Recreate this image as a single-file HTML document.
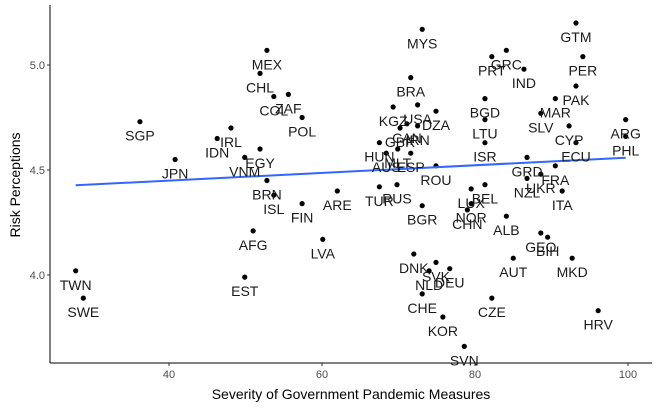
<!DOCTYPE html>
<html><head><meta charset="utf-8"><style>
body{margin:0;background:#fff;}
svg{display:block;font-family:"Liberation Sans",Arial,sans-serif;}
</style></head><body>
<svg id="chart" width="661" height="408" viewBox="0 0 661 408"></svg>
<script>
const countries=["MEX","CHL","COL","ZAF","SGP","POL","IRL","IDN","EGY","VNM","JPN","BRN","ISL","ARE","FIN","AFG","LVA","TWN","EST","SWE","MYS","GTM","PRT","GRC","IND","PER","BRA","PAK","BGD","MAR","KGZ","USA","DZA","SLV","LTU","CYP","ARG","PHL","GBR","CAN","IRN","HUN","MLT","AUS","ESP","ROU","ISR","ECU","GRD","FRA","UKR","NZL","ITA","TUR","RUS","BGR","LUX","BEL","NOR","CHN","ALB","GEO","BIH","DNK","SVK","NLD","DEU","CHE","AUT","MKD","CZE","KOR","SVN","HRV"];
const severity=[52.8,51.9,53.7,55.6,36.2,57.4,48.1,46.3,51.9,49.9,40.8,52.8,53.7,62.0,57.4,51.0,60.1,27.8,49.9,28.8,73.1,93.2,82.2,84.1,86.4,94.1,71.6,93.2,81.3,90.5,69.3,72.5,74.9,88.6,81.3,92.3,99.7,99.7,70.2,71.1,72.5,67.5,69.9,68.4,71.6,74.9,81.3,93.2,86.8,90.5,88.6,86.8,91.4,67.5,69.8,73.1,79.5,81.3,79.5,79.0,84.1,88.6,89.5,72.0,74.9,74.0,76.7,73.1,85.0,92.7,82.2,75.8,78.6,96.1];
const risk=[5.07,4.96,4.85,4.86,4.73,4.75,4.70,4.65,4.60,4.56,4.55,4.45,4.38,4.40,4.34,4.21,4.17,4.02,3.99,3.89,5.17,5.20,5.04,5.07,4.98,5.04,4.94,4.90,4.84,4.84,4.80,4.81,4.78,4.77,4.74,4.71,4.74,4.66,4.70,4.72,4.71,4.63,4.60,4.58,4.58,4.52,4.63,4.63,4.56,4.52,4.48,4.46,4.40,4.42,4.43,4.33,4.41,4.43,4.34,4.31,4.28,4.20,4.18,4.10,4.06,4.02,4.03,3.91,4.08,4.08,3.89,3.80,3.66,3.83];
const xTicks=[40,60,80,100];
const yTicks=[4.0,4.5,5.0];
const NS="http://www.w3.org/2000/svg";
const svg=document.getElementById('chart');
const L=50,R=652,T=5,B=363;
function sx(v){return 169+(v-40)*7.65;}
function sy(v){return 65+(5-v)*210;}
function mk(tag,attrs,txt){const e=document.createElementNS(NS,tag);for(const k in attrs)e.setAttribute(k,attrs[k]);if(txt!==undefined)e.textContent=txt;svg.appendChild(e);return e;}
// axes
let e=mk('line',{x1:L,y1:T,x2:L,y2:B,stroke:'#000','stroke-width':1});


e=mk('line',{x1:L,y1:B,x2:R,y2:B,stroke:'#000','stroke-width':1});


xTicks.forEach(t=>{
  const x=sx(t);
  let k=mk('line',{x1:x,y1:B,x2:x,y2:B+3,stroke:'#333'});
  
  
  let l=mk('text',{x:x,y:B+15,'text-anchor':'middle','font-size':11,fill:'#4d4d4d'},String(t));
  
  
});
yTicks.forEach(t=>{
  const y=sy(t);
  let k=mk('line',{x1:L-3,y1:y,x2:L,y2:y,stroke:'#333'});
  
  
  let l=mk('text',{x:L-5,y:y+4,'text-anchor':'end','font-size':11,fill:'#4d4d4d'},t.toFixed(1));
  
  
});
e=mk('text',{x:351,y:399,'text-anchor':'middle','font-size':14,fill:'#000'},'Severity of Government Pandemic Measures');


e=mk('text',{x:20,y:185,'text-anchor':'middle','font-size':14,fill:'#000',transform:'rotate(-90 20 185)'},'Risk Perceptions');


// points
for(let i=0;i<countries.length;i++){
  const x=sx(severity[i]),y=sy(risk[i]);
  let c=mk('circle',{cx:x,cy:y,r:2.6,fill:'#000'});
  
  
}
// regression
const n=severity.length;let mx=0,my=0;
for(let i=0;i<n;i++){mx+=severity[i];my+=risk[i];}
mx/=n;my/=n;let sxy=0,sxx=0;
for(let i=0;i<n;i++){sxy+=(severity[i]-mx)*(risk[i]-my);sxx+=(severity[i]-mx)**2;}
const slope=sxy/sxx,icpt=my-slope*mx;
const x0=Math.min(...severity),x1=Math.max(...severity);
e=mk('line',{x1:sx(x0),y1:sy(icpt+slope*x0),x2:sx(x1),y2:sy(icpt+slope*x1),stroke:'#3366FF','stroke-width':2});


// labels
for(let i=0;i<countries.length;i++){
  const x=sx(severity[i]),y=sy(risk[i]);
  let t=mk('text',{x:x,y:y+19,'text-anchor':'middle','font-size':14,fill:'#1a1a1a'},countries[i]);
  
  
}
</script>
</body></html>
